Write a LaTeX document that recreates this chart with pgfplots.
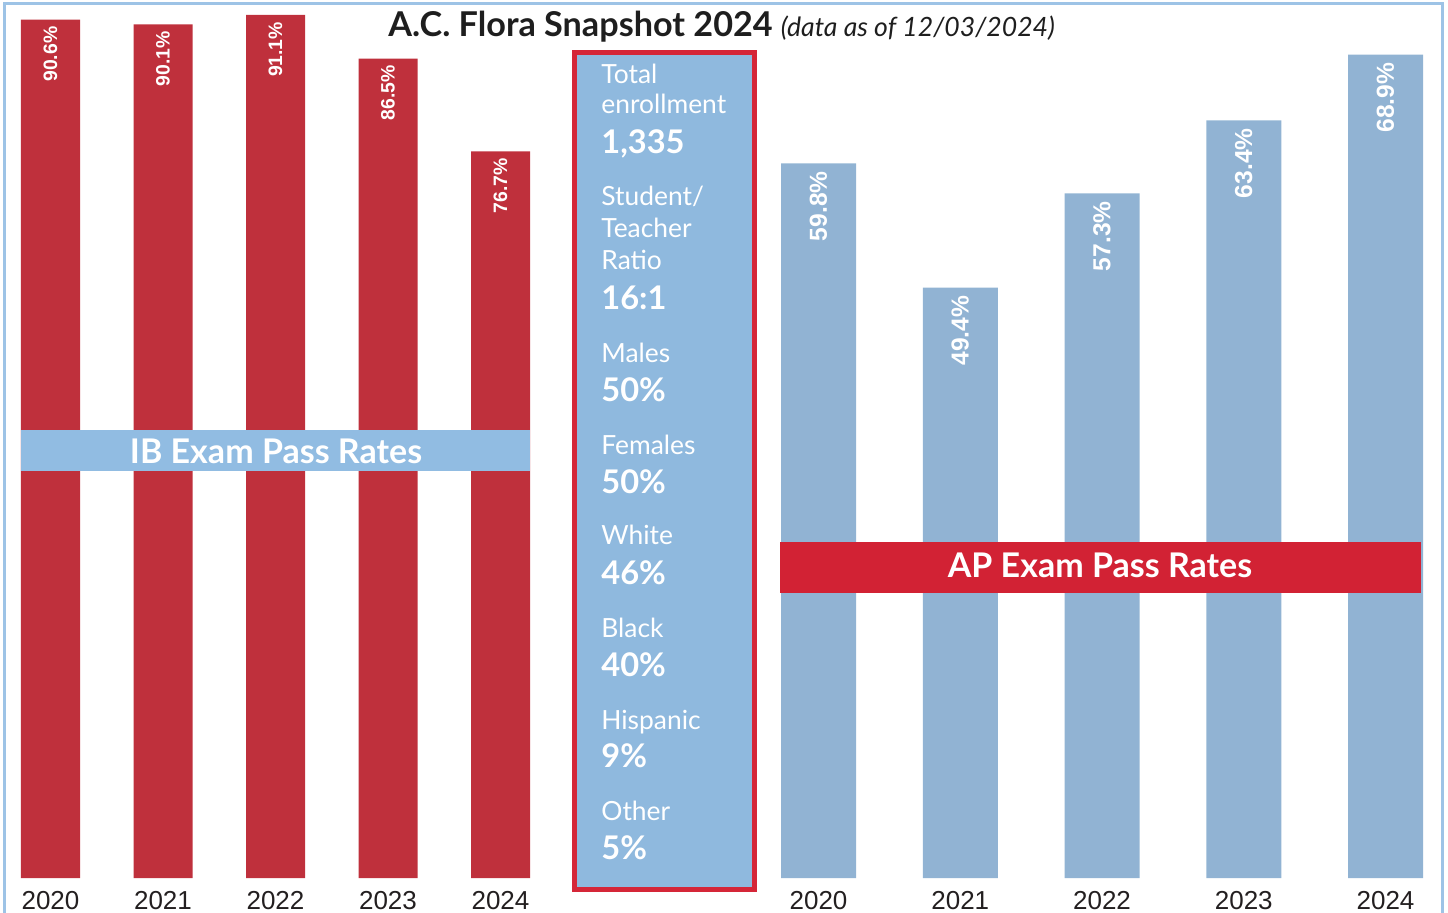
\documentclass[border=0pt]{standalone}
\usepackage{pgfplots}
\pgfplotsset{compat=1.18}
\usepackage{fontspec}
\setmainfont{Lato}
\newfontfamily\arialf{Liberation Sans}
\definecolor{ibred}{RGB}{191,48,60}
\definecolor{apblue}{RGB}{145,179,211}
\definecolor{boxblue}{RGB}{143,185,222}
\definecolor{bandblue}{RGB}{145,188,226}
\definecolor{boxred}{RGB}{213,38,56}
\definecolor{bandred}{RGB}{210,34,52}
\definecolor{outline}{RGB}{157,195,230}
\definecolor{yeargray}{RGB}{35,31,32}
\definecolor{titlegray}{RGB}{30,30,30}
\newcommand{\reg}{\fontsize{13.2bp}{13.2bp}\selectfont}
\newcommand{\bld}{\bfseries\fontsize{16.3bp}{16.3bp}\selectfont}
\begin{document}
\begin{tikzpicture}
% IB axis
\begin{axis}[
  at={(8.375bp,17.5bp)}, anchor=south west,
  scale only axis, width=258.75bp, height=450bp,
  xmin=-0.3, xmax=4.3, ymin=0, ymax=95,
  ybar, bar width=29.5bp,
  axis line style={draw=none},
  tick style={draw=none},
  ytick=\empty,
  xtick={0,1,2,3,4},
  xticklabels={2020,2021,2022,2023,2024},
  xticklabel style={font=\arialf\fontsize{13bp}{13bp}\selectfont, text=yeargray, anchor=base, yshift=-11.5bp, inner sep=0pt},
  /pgf/number format/assume math mode=true,
  nodes near coords={\pgfmathprintnumber[fixed,precision=1,fixed zerofill]{\pgfplotspointmeta}\%},
  every node near coord/.append style={font=\arialf\bfseries\fontsize{9.7bp}{9.7bp}\selectfont, text=white, rotate=90, anchor=east, inner sep=0pt, outer xsep=3.5bp},
  clip=false
]
\addplot[fill=ibred, draw=none] coordinates {(0,90.6) (1,90.1) (2,91.1) (3,86.5) (4,76.7)};
\end{axis}
% AP axis
\begin{axis}[
  at={(387.99bp,17.5bp)}, anchor=south west,
  scale only axis, width=326.03bp, height=430.2bp,
  xmin=-0.3, xmax=4.3, ymin=0, ymax=72,
  ybar, bar width=37.5bp,
  axis line style={draw=none},
  tick style={draw=none},
  ytick=\empty,
  xtick={0,1,2,3,4},
  xticklabels={2020,2021,2022,2023,2024},
  xticklabel style={font=\arialf\fontsize{13bp}{13bp}\selectfont, text=yeargray, anchor=base, yshift=-11.5bp, inner sep=0pt},
  /pgf/number format/assume math mode=true,
  nodes near coords={\pgfmathprintnumber[fixed,precision=1,fixed zerofill]{\pgfplotspointmeta}\%},
  every node near coord/.append style={font=\arialf\bfseries\fontsize{12.3bp}{12.3bp}\selectfont, text=white, rotate=90, anchor=east, inner sep=0pt, outer xsep=4bp},
  clip=false
]
\addplot[fill=apblue, draw=none] coordinates {(0,59.8) (1,49.4) (2,57.3) (3,63.4) (4,68.9)};
\end{axis}
\begin{scope}[x=0.5bp,y=0.5bp]
% bands
\fill[bandblue] (21,{913-471}) rectangle (530,{913-430});
\node[text=white, font=\bfseries\fontsize{17bp}{17bp}\selectfont, inner sep=0pt] at (276,{913-451}) {IB Exam Pass Rates};
\fill[bandred] (780,{913-593}) rectangle (1421,{913-542});
\node[text=white, font=\bfseries\fontsize{17bp}{17bp}\selectfont, inner sep=0pt] at (1100,{913-565}) {AP Exam Pass Rates};
% middle box
\filldraw[fill=boxblue, draw=boxred, line width=2.5bp] (574.5,{913-889}) rectangle (754.5,{913-52.5});
\foreach \f/\y/\t in {\reg/83/Total, \reg/113/enrollment, \bld/153/{1,335}, \reg/205/Student\slash, \reg/237/Teacher, \reg/269/Ratio, \bld/309/16:1, \reg/362/Males, \bld/401/50\%, \reg/454/Females, \bld/493/50\%, \reg/544/White, \bld/584/46\%, \reg/637/Black, \bld/676/40\%, \reg/729/Hispanic, \bld/767/9\%, \reg/820/Other, \bld/859/5\%}
  \node[anchor=base west, inner sep=0pt, text=white, font=\f] at (601,{913-\y}) {\t};
% title
\node[anchor=base west, inner sep=0pt, text=titlegray] at (388,{913-36}) {\bfseries\fontsize{17.1bp}{17.1bp}\selectfont A.C. Flora Snapshot 2024\ \itshape\mdseries\fontsize{13.3bp}{13.3bp}\selectfont(data as of 12/03/2024)};
% outer border
\draw[outline, line width=1.5bp] (4.5,-5) -- (4.5,909.5) -- (1442.5,909.5) -- (1442.5,-5);
\end{scope}
\pgfresetboundingbox
\path[use as bounding box] (0,0) rectangle (724bp,456.5bp);
\end{tikzpicture}
\end{document}
